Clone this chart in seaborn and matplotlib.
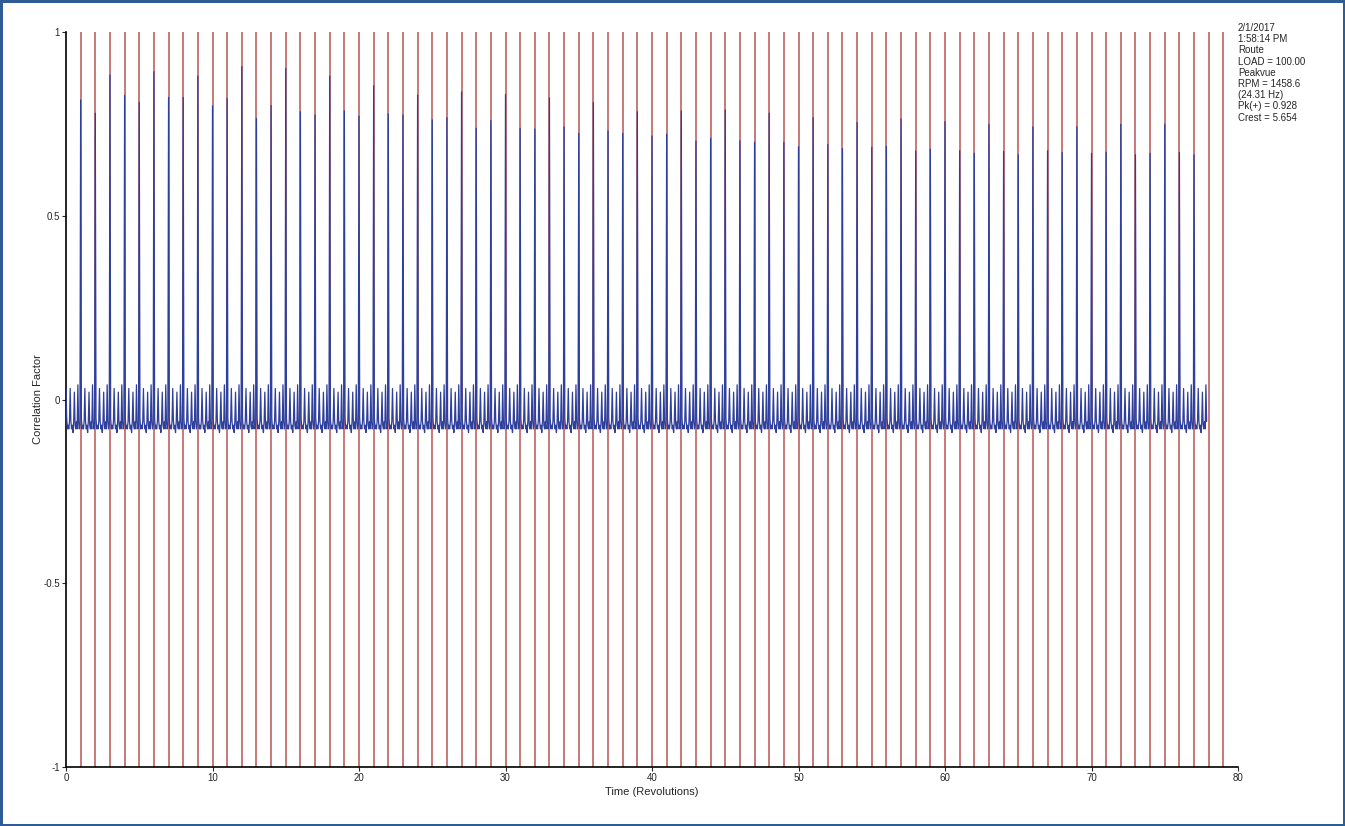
import numpy as np
import pandas as pd
import matplotlib
matplotlib.use('Agg')
import matplotlib.pyplot as plt
import seaborn as sns

# 회전별 피크 값 (0번은 시작점 값)
peak_values = [0.03,
               0.815, 0.779, 0.883, 0.827, 0.809, 0.892, 0.822, 0.822, 0.880, 0.799,
               0.819, 0.906, 0.765, 0.800, 0.901, 0.783, 0.774, 0.880, 0.785, 0.771,
               0.854, 0.777, 0.774, 0.828, 0.761, 0.767, 0.837, 0.738, 0.759, 0.830,
               0.738, 0.736, 0.821, 0.742, 0.724, 0.808, 0.731, 0.724, 0.783, 0.717,
               0.722, 0.785, 0.703, 0.711, 0.788, 0.704, 0.700, 0.779, 0.700, 0.688,
               0.767, 0.694, 0.683, 0.754, 0.686, 0.689, 0.763, 0.676, 0.681, 0.756,
               0.677, 0.670, 0.749, 0.675, 0.666, 0.742, 0.677, 0.672, 0.742, 0.670,
               0.673, 0.749, 0.666, 0.670, 0.749, 0.672, 0.666]

# 한 회전 안의 잔물결 파형 (피크 다음 샘플부터)
cycle_ripple = [-0.05, -0.08, -0.07, -0.08, -0.06, 0.03, -0.06, -0.08,
                -0.07, -0.09, -0.06, 0.02, -0.07, -0.08, -0.06, -0.08,
                0.04, -0.06, -0.08, -0.07]

rev_marks = list(range(1, 80))
signal_end = 77.9

info_lines = ['2/1/2017', '1:58:14 PM', 'Route', 'LOAD = 100.00', 'Peakvue',
              'RPM = 1458.6', '(24.31 Hz)', 'Pk(+) = 0.928', 'Crest = 5.654']

# 신호 조립
n_per_rev = len(cycle_ripple) + 1
values = []
for p in peak_values:
    values.append(p)
    values.extend(cycle_ripple)
t = np.arange(len(values)) / n_per_rev
df = pd.DataFrame({'t': t, 'corr': values})
df = df[df['t'] <= signal_end]

sns.set_style('ticks')
plt.rcParams['font.family'] = ['Liberation Sans', 'DejaVu Sans']

fig = plt.figure(figsize=(13.45, 8.26), dpi=100)
fig.patch.set_edgecolor('#2e5d96')
fig.patch.set_linewidth(2.5)
ax = fig.add_axes([66 / 1345, 1 - 767 / 826, (1238 - 66) / 1345, (767 - 32) / 826])

for r in rev_marks:
    ax.axvline(r, color='#b54a4a', lw=1.3, alpha=0.8, zorder=1)

sns.lineplot(data=df, x='t', y='corr', ax=ax, color='#2f3f9c', lw=0.9,
             estimator=None, sort=False, zorder=3)

ax.set_xlim(0, 80)
ax.set_ylim(-1, 1)
ax.set_xticks(range(0, 81, 10))
ax.set_yticks([-1, -0.5, 0, 0.5, 1])
ax.set_yticklabels(['-1', '-0.5', '0', '0.5', '1'])
ax.tick_params(labelsize=7, length=3, width=0.8, pad=1.5)
ax.set_xlabel('Time (Revolutions)', fontsize=8, labelpad=3)
ax.set_ylabel('Correlation Factor', fontsize=8, labelpad=0)
sns.despine(ax=ax)
for s in ['left', 'bottom']:
    ax.spines[s].set_linewidth(1.2)
    ax.spines[s].set_color('black')

fig.text(1238 / 1345, 1 - 23 / 826, '\n'.join(info_lines), fontsize=7,
         va='top', ha='left', linespacing=1.15)

fig.savefig('out.png', dpi=100)
